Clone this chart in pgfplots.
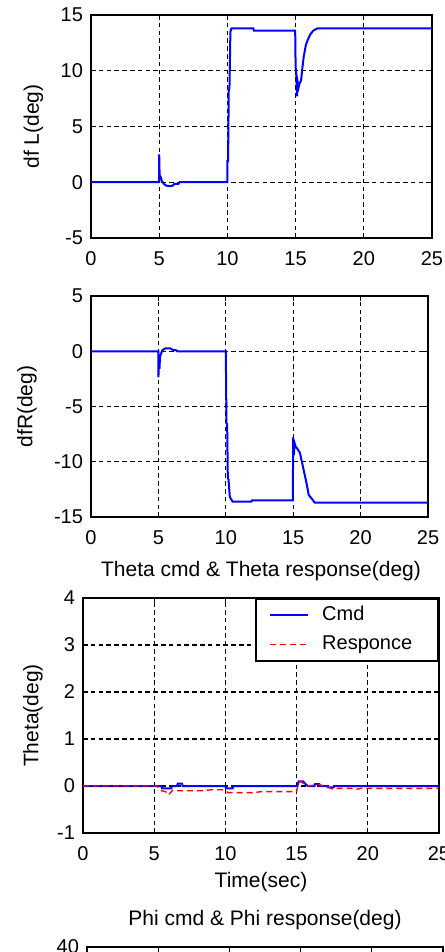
\documentclass[border=0pt]{standalone}
\usepackage{pgfplots}
\pgfplotsset{compat=1.18}
\usepackage{fontspec}
\setmainfont{Liberation Sans}
\newcommand\tfs{\fontsize{10}{12}\selectfont}
\newcommand\lfs{\fontsize{10.5}{12.5}\selectfont}
\pgfplotsset{
  every axis title/.style={at={(0.5,1)}, anchor=south, inner sep=0pt, yshift=8.5pt, font=\lfs},
  myaxis/.style={
    scale only axis,
    anchor=south west,
    xmin=0, xmax=25, xtick={0,5,10,15,20,25},
    grid=major,
    major grid style={black, line width=0.55pt, dash pattern=on 2.3pt off 1.6pt},
    axis line style={black, line width=0.8pt},
    tick style={black, line width=0.5pt},
    tick align=inside,
    major tick length=2.5pt,
    tick label style={font=\tfs},
    label style={font=\lfs},
    /pgf/number format/assume math mode=true,
    yticklabel style={xshift=-0.5pt},
    xticklabel style={yshift=-3.3pt},
  },
  blueline/.style={blue, line width=1pt, solid},
}
\begin{document}
\begin{tikzpicture}
% ---------------- dfL ----------------
\begin{axis}[myaxis, at={(45.5pt,-119pt)}, width=170.5pt, height=111.5pt,
  ymin=-5, ymax=15, ytick={-5,0,5,10,15},
  ylabel={df L(deg)}, ylabel style={at={(axis description cs:-0.1686,0.5)}, anchor=center}]
\addplot[blueline] coordinates {
(0,0) (5,0) (5,2.5) (5.03,0.6) (5.1,0.5) (5.2,0.1) (5.35,-0.15) (5.5,-0.3) (5.8,-0.35)
(6.0,-0.3) (6.1,-0.15) (6.4,-0.15) (6.5,0) (10,0) (10,1.9) (10.05,1.9) (10.1,8.3)
(10.15,8.4) (10.22,13.5) (10.3,13.8) (11.9,13.8) (11.95,13.6) (14.97,13.6) (15.0,10.4)
(15.05,9.6) (15.1,7.7) (15.15,9.0) (15.22,8.5) (15.3,8.9) (15.4,9.1) (15.5,10.3)
(15.6,11.3) (15.75,12.3) (15.9,12.8) (16.1,13.3) (16.3,13.6) (16.6,13.8) (25,13.8)
};
\end{axis}
% ---------------- dfR ----------------
\begin{axis}[myaxis, at={(45.5pt,-258.5pt)}, width=168.5pt, height=110.5pt,
  ymin=-15, ymax=5, ytick={-15,-10,-5,0,5},
  ylabel={dfR(deg)}, ylabel style={at={(axis description cs:-0.19,0.5)}, anchor=center}]
\addplot[blueline] coordinates {
(0,0) (5,0) (5,-2.35) (5.05,-0.8) (5.08,-1.6) (5.12,-0.5) (5.2,-0.2) (5.3,0.1) (5.5,0.25)
(5.9,0.25) (6.1,0.1) (6.3,0.1) (6.4,0) (10,0) (10.05,-6.5) (10.1,-6.6) (10.15,-11.5)
(10.2,-11.6) (10.3,-13.2) (10.5,-13.6) (11.9,-13.6) (11.95,-13.5) (14.97,-13.5)
(15.0,-7.8) (15.05,-9.4) (15.1,-8.3) (15.2,-8.7) (15.3,-8.8) (15.5,-9.2) (15.75,-10.6)
(16.0,-12.0) (16.15,-13.0) (16.35,-13.3) (16.6,-13.7) (25,-13.7)
};
\end{axis}
% ---------------- Theta ----------------
\begin{axis}[myaxis, at={(41.5pt,-416.5pt)}, width=178pt, height=117.5pt,
  ymin=-1, ymax=4, ytick={-1,0,1,2,3,4},
  title={Theta cmd \& Theta response(deg)},
  xlabel={Time(sec)}, xlabel style={at={(axis description cs:0.5,-0.166)}, anchor=north, inner sep=0pt},
  ylabel={Theta(deg)}, ylabel style={at={(axis description cs:-0.1404,0.5)}, anchor=center},
  legend cell align=left,
  legend style={at={(1,1)}, anchor=north east, draw=black, line width=0.8pt, fill=white,
    font=\tfs, inner xsep=6.5pt, inner ysep=3.75pt, row sep=5.5pt, column sep=6.5pt,
    nodes={inner sep=0pt, text height=7pt, text depth=2pt, text width=51.5pt}},
  legend image code/.code={\draw[#1] (0pt,0pt) -- (19pt,0pt);}]
\addplot[blueline] coordinates {
(0,0) (5.5,0) (5.55,-0.05) (6.2,-0.05) (6.25,0) (6.6,0) (6.65,0.05) (6.95,0.05) (7.0,0)
(10,0) (10.05,-0.05) (10.5,-0.05) (10.55,0) (15.05,0) (15.15,0.1) (15.45,0.1) (15.7,0.02)
(15.8,0) (16.25,0) (16.3,0.04) (16.6,0.04) (16.65,0) (17.15,0) (17.2,-0.03) (17.6,-0.03)
(17.65,0) (25,0)
};
\addlegendentry{Cmd}
\addplot[red, line width=0.7pt, dash pattern=on 3pt off 2pt] coordinates {
(0,0) (5.2,0) (5.5,-0.1) (5.8,-0.12) (6.0,-0.19) (6.3,-0.09) (6.6,-0.1) (8.4,-0.1)
(9.0,-0.08) (9.8,-0.08) (10.2,-0.14) (12.0,-0.14) (12.5,-0.12) (15.0,-0.12) (15.1,0.02)
(15.25,0.1) (15.8,0.0) (16.5,0.03) (17.0,0.0) (17.6,-0.07) (17.9,-0.05) (19.0,-0.05)
(19.2,-0.07) (19.5,-0.05) (25,-0.05)
};
\addlegendentry{Responce}
\end{axis}
% ---------------- Phi (cut off at the bottom of the figure) ----------------
\begin{axis}[myaxis, at={(43.5pt,-591pt)}, width=178pt, height=117.5pt,
  ymin=-10, ymax=40, ytick={40}, xticklabels={},
  title={Phi cmd \& Phi response(deg)}]
\end{axis}
\pgfresetboundingbox
\useasboundingbox (0,0) rectangle (222pt,-476pt);
\end{tikzpicture}
\end{document}
